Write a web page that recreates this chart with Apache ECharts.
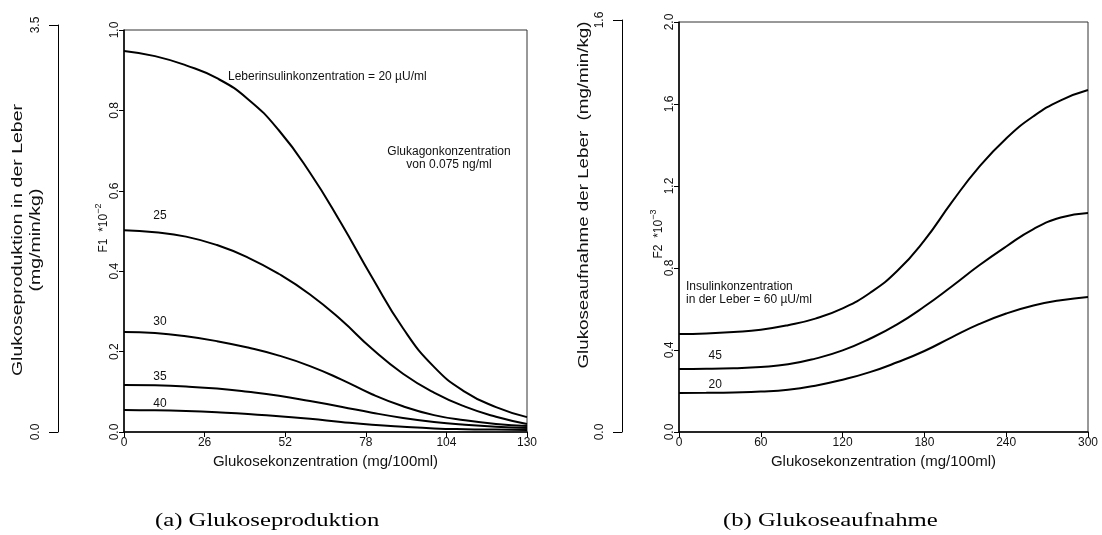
<!DOCTYPE html>
<html>
<head>
<meta charset="utf-8">
<script src="https://cdn.jsdelivr.net/npm/echarts@6/dist/echarts.min.js"></script>
<style>
  * { margin: 0; padding: 0; }
  html, body { width: 1102px; height: 535px; background: #fff; overflow: hidden; }
  #chart { width: 1102px; height: 535px; }
</style>
</head>
<body>
<div id="chart"></div>
<script>
  // (a) Glukoseproduktion: F1 gegen Glukosekonzentration, eine Kurve je Leberinsulinkonzentration
  const prodGlucose = [0, 10, 20, 30, 40, 50, 60, 70, 80, 90, 100, 110, 120, 130]
  const prodIns20 = [0.948, 0.935, 0.912, 0.880, 0.828, 0.750, 0.645, 0.520, 0.385, 0.258, 0.162, 0.100, 0.062, 0.037]
  const prodIns25 = [0.502, 0.497, 0.486, 0.465, 0.434, 0.393, 0.342, 0.279, 0.207, 0.145, 0.098, 0.063, 0.038, 0.020]
  const prodIns30 = [0.249, 0.246, 0.238, 0.226, 0.210, 0.190, 0.164, 0.131, 0.094, 0.064, 0.042, 0.029, 0.020, 0.015]
  const prodIns35 = [0.117, 0.116, 0.113, 0.108, 0.100, 0.090, 0.077, 0.063, 0.048, 0.035, 0.025, 0.018, 0.013, 0.010]
  const prodIns40 = [0.055, 0.054, 0.052, 0.049, 0.045, 0.039, 0.033, 0.025, 0.018, 0.013, 0.009, 0.007, 0.006, 0.005]
  const prodXTicks = [0, 26, 52, 78, 104, 130]
  const prodYTicks = [0, 0.2, 0.4, 0.6, 0.8, 1.0]
  const prodOuterTicks = [0, 3.5]

  // (b) Glukoseaufnahme: F2 gegen Glukosekonzentration
  const upGlucose = [0, 20, 40, 60, 80, 100, 120, 140, 160, 180, 200, 220, 240, 260, 280, 300]
  const upIns60 = [0.478, 0.481, 0.488, 0.499, 0.521, 0.553, 0.603, 0.678, 0.785, 0.935, 1.120, 1.292, 1.432, 1.540, 1.618, 1.668]
  const upIns45 = [0.307, 0.308, 0.311, 0.317, 0.330, 0.358, 0.398, 0.455, 0.525, 0.612, 0.710, 0.812, 0.905, 0.990, 1.046, 1.068]
  const upIns20 = [0.190, 0.191, 0.193, 0.197, 0.206, 0.226, 0.255, 0.292, 0.340, 0.395, 0.462, 0.526, 0.578, 0.617, 0.643, 0.659]
  const upXTicks = [0, 60, 120, 180, 240, 300]
  const upYTicks = [0, 0.4, 0.8, 1.2, 1.6, 2.0]
  const upOuterTicks = [0, 1.6]

  const font = '"Liberation Sans", Arial, Helvetica, sans-serif'
  const serif = '"Liberation Serif", "DejaVu Serif", serif'
  const ink = '#111'

  function curve(xs, ys, xi, yi, lbl) {
    return {
      type: 'line',
      xAxisIndex: xi,
      yAxisIndex: yi,
      smooth: 0.5,
      symbol: 'circle',
      symbolSize: 0,
      showSymbol: true,
      silent: true,
      lineStyle: {color: '#000', width: 2},
      itemStyle: {color: '#000'},
      data: xs.map(function (x, i) {
        let d = {value: [x, ys[i]]}
        if (lbl && i === lbl.at) {
          d.label = {
            show: true, formatter: lbl.text, position: 'top',
            distance: lbl.dist, offset: lbl.off || [0, 0],
            color: ink, fontSize: 12, fontFamily: font
          }
        }
        return d
      })
    }
  }

  function valueX(ticks, gi, show) {
    return {
      type: 'value', gridIndex: gi, show: show,
      min: ticks[0], max: ticks[ticks.length - 1], interval: ticks[1] - ticks[0],
      splitLine: {show: false},
      axisLine: {show: true, onZero: false, lineStyle: {color: '#000', width: 1.5}},
      axisTick: {show: true, length: 5, lineStyle: {color: '#000'}},
      axisLabel: {color: ink, fontSize: 12, fontFamily: font, margin: 5, showMinLabel: true, showMaxLabel: true},
      name: 'Glukosekonzentration (mg/100ml)',
      nameLocation: 'middle', nameGap: 21,
      nameTextStyle: {color: ink, fontSize: 15, fontFamily: font}
    }
  }

  function valueY(ticks, gi, inner) {
    return {
      type: 'value', gridIndex: gi,
      min: ticks[0], max: ticks[ticks.length - 1], interval: ticks[1] - ticks[0],
      splitLine: {show: false},
      axisLine: {show: true, onZero: false, lineStyle: {color: '#000', width: inner ? 1.5 : 1}},
      axisTick: {show: true, length: inner ? 5 : 9, lineStyle: {color: '#000'}},
      axisLabel: {
        color: ink, fontSize: 12, fontFamily: font, rotate: 90, margin: inner ? 3 : 16,
        showMinLabel: true, showMaxLabel: true,
        formatter: function (v) { return v.toFixed(1) }
      }
    }
  }

  function vtext(x, y, txt, size, stretch, lh) {
    return {type: 'text', x: x, y: y, rotation: Math.PI / 2, scaleX: stretch, silent: true,
      style: {text: txt, fontSize: size, fontFamily: font, fill: ink, align: 'center', verticalAlign: 'middle', lineHeight: lh}}
  }

  function expo(x, y, base, ex) {
    return {type: 'text', x: x, y: y, rotation: Math.PI / 2, silent: true,
      style: {text: '{a|' + base + '}{s|' + ex + '}', fontFamily: font, fill: ink, align: 'center', verticalAlign: 'middle',
        rich: {a: {fontSize: 12, fontFamily: font, fill: ink, verticalAlign: 'bottom', lineHeight: 16},
               s: {fontSize: 9, fontFamily: font, fill: ink, verticalAlign: 'top', lineHeight: 16}}}}
  }

  let chart = echarts.init(document.getElementById('chart'), null, {renderer: 'canvas'})
  chart.setOption({
    backgroundColor: '#fff',
    animation: false,
    grid: [
      {left: 124, top: 30, width: 403, height: 402, show: true, borderColor: '#333', borderWidth: 1},
      {left: 58, top: 25, width: 20, height: 407},
      {left: 679, top: 22, width: 409, height: 410, show: true, borderColor: '#333', borderWidth: 1},
      {left: 622, top: 20, width: 20, height: 412}
    ],
    xAxis: [
      valueX(prodXTicks, 0, true),
      valueX(prodXTicks, 1, false),
      valueX(upXTicks, 2, true),
      valueX(upXTicks, 3, false)
    ],
    yAxis: [
      valueY(prodYTicks, 0, true),
      valueY(prodOuterTicks, 1, false),
      valueY(upYTicks, 2, true),
      valueY(upOuterTicks, 3, false)
    ],
    series: [
      curve(prodGlucose, prodIns20, 0, 0),
      curve(prodGlucose, prodIns25, 0, 0, {at: 1, text: '25', dist: 11, off: [5, 0]}),
      curve(prodGlucose, prodIns30, 0, 0, {at: 1, text: '30', dist: 5, off: [5, 0]}),
      curve(prodGlucose, prodIns35, 0, 0, {at: 1, text: '35', dist: 3, off: [5, 0]}),
      curve(prodGlucose, prodIns40, 0, 0, {at: 1, text: '40', dist: 1, off: [5, 0]}),
      curve(upGlucose, upIns60, 2, 2),
      curve(upGlucose, upIns45, 2, 2, {at: 1, text: '45', dist: 7, off: [9, 0]}),
      curve(upGlucose, upIns20, 2, 2, {at: 1, text: '20', dist: 2, off: [9, 0]})
    ],
    graphic: [
      // Beschriftungen in den Diagrammen
      {type: 'text', x: 228, y: 77, silent: true,
        style: {text: 'Leberinsulinkonzentration = 20 \u00b5U/ml', fontSize: 12, fontFamily: font, fill: ink, align: 'left', verticalAlign: 'middle'}},
      {type: 'text', x: 449, y: 158, silent: true,
        style: {text: 'Glukagonkonzentration\nvon 0.075 ng/ml', fontSize: 12, fontFamily: font, fill: ink, align: 'center', verticalAlign: 'middle', lineHeight: 13}},
      {type: 'text', x: 686, y: 293, silent: true,
        style: {text: 'Insulinkonzentration\nin der Leber = 60 \u00b5U/ml', fontSize: 12, fontFamily: font, fill: ink, align: 'left', verticalAlign: 'middle', lineHeight: 13}},
      // F1 / F2
      expo(102, 228, 'F1  *10', '\u22122'),
      expo(657, 234, 'F2  *10', '\u22123'),
      // aeussere Achsentitel
      vtext(27, 240, 'Glukoseproduktion in der Leber\n(mg/min/kg)', 15, 1.3, 18),
      vtext(584, 195, 'Glukoseaufnahme der Leber  (mg/min/kg)', 15, 1.25, 18),
      // Bildunterschriften
      {type: 'text', x: 155, y: 521, scaleX: 1.3, silent: true,
        style: {text: '(a) Glukoseproduktion', fontSize: 19, fontFamily: serif, fill: '#000', align: 'left', verticalAlign: 'middle'}},
      {type: 'text', x: 723, y: 521, scaleX: 1.3, silent: true,
        style: {text: '(b) Glukoseaufnahme', fontSize: 19, fontFamily: serif, fill: '#000', align: 'left', verticalAlign: 'middle'}}
    ]
  })
</script>
</body>
</html>
